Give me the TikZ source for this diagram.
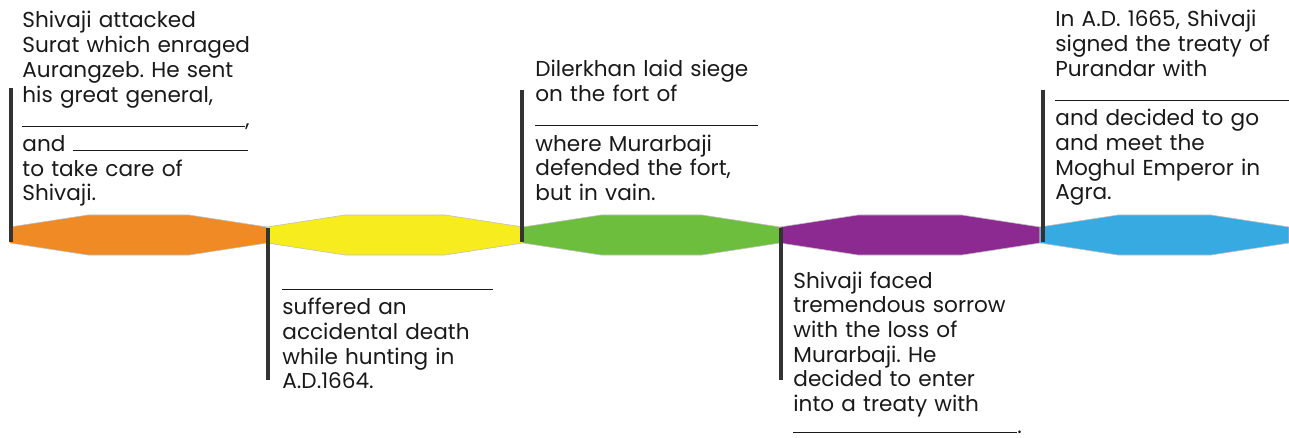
\documentclass[tikz,border=0pt]{standalone}
\usepackage{fontspec}
\setmainfont{Poppins}
\frenchspacing

\definecolor{segorange}{RGB}{240,138,36}
\definecolor{segyellow}{RGB}{246,236,30}
\definecolor{seggreen}{RGB}{108,190,60}
\definecolor{segpurple}{RGB}{140,42,146}
\definecolor{segblue}{RGB}{56,170,226}

\newcommand{\blankline}[1]{\rule{#1}{0.5pt}}

\begin{document}
\begin{tikzpicture}[x=0.5pt, y=-0.5pt,
  note/.style={anchor=base west, inner sep=0pt, text width=150pt, align=left,
    font=\fontsize{10.8}{12.35}\selectfont, text=black!90},
  bar/.style={line width=2pt, black!80}]

  \useasboundingbox (0,0) rectangle (1289,438);

  % Timeline segments
  \foreach \sx/\ex/\col in {10/267/segorange, 267/523/segyellow, 523/780/seggreen,
                            780/1040/segpurple, 1040/1289/segblue}
    \filldraw[fill=\col, draw=black!25, line width=0.3pt]
      (\sx,227) -- (\sx+78,215) -- (\ex-78,215) -- (\ex,227)
      -- (\ex,243) -- (\ex-78,255) -- (\sx+78,255) -- (\sx,243) -- cycle;

  % Markers
  \coordinate (m1top) at (11,88);   \coordinate (m1bot) at (11,242);
  \coordinate (m2top) at (268,228); \coordinate (m2bot) at (268,380);
  \coordinate (m3top) at (522,90);  \coordinate (m3bot) at (522,242);
  \coordinate (m4top) at (781,228); \coordinate (m4bot) at (781,380);
  \coordinate (m5top) at (1043,90); \coordinate (m5bot) at (1043,242);
  \foreach \i in {1,...,5}
    \draw[bar] (m\i top) -- (m\i bot);

  % Events above the line
  \node[note] (surat) at (22,28) {Shivaji attacked\\
    Surat which enraged\\
    Aurangzeb. He sent\\
    his great general,\\
    \blankline{111.5pt},\\
    and \blankline{87.5pt}\\
    to take care of\\
    Shivaji.};

  \node[note] (siege) at (535,77) {Dilerkhan laid siege\\
    on the fort of\\
    \blankline{111.5pt}\\
    where Murarbaji\\
    defended the fort,\\
    but in vain.};

  \node[note] (purandar) at (1055,27) {In A.D. 1665, Shivaji\\
    signed the treaty of\\
    Purandar with\\
    \blankline{117pt}\\
    and decided to go\\
    and meet the\\
    Moghul Emperor in\\
    Agra.};

  % Events below the line
  \node[note] (death) at (282,290) {\blankline{105.5pt}\\
    suffered an\\
    accidental death\\
    while hunting in\\
    A.D.1664.};

  \node[note] (sorrow) at (793,288) {Shivaji faced\\
    tremendous sorrow\\
    with the loss of\\
    Murarbaji. He\\
    decided to enter\\
    into a treaty with\\[-1.5pt]
    \blankline{112pt}.};

\end{tikzpicture}
\end{document}
